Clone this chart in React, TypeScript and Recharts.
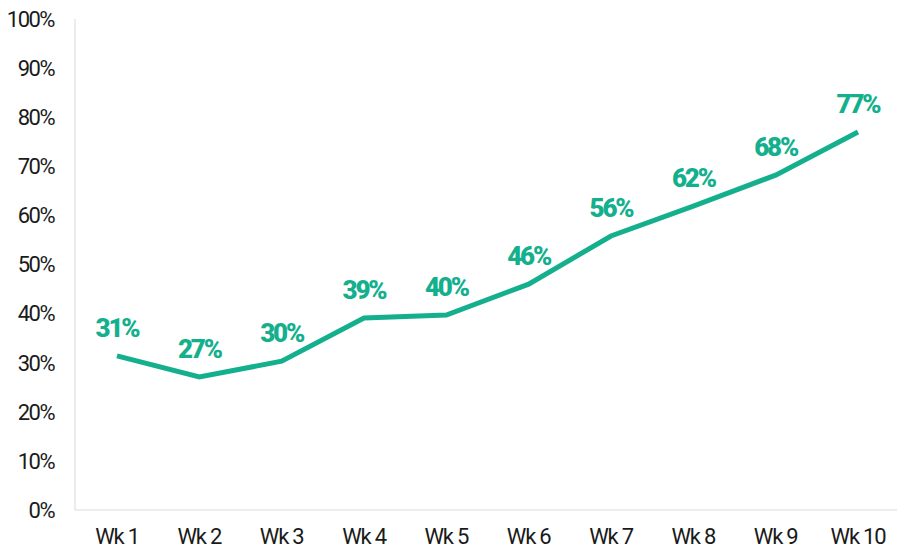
import { LineChart, Line, XAxis, YAxis, LabelList } from "recharts"

const weeks = ["Wk 1", "Wk 2", "Wk 3", "Wk 4", "Wk 5", "Wk 6", "Wk 7", "Wk 8", "Wk 9", "Wk 10"]
const rates = [31.4, 27.1, 30.3, 39.1, 39.7, 46.0, 55.8, 61.9, 68.2, 77.0]
const yTicks = [0, 10, 20, 30, 40, 50, 60, 70, 80, 90, 100]

const data = weeks.map((wk, i) => ({ name: wk, rate: rates[i] }))

const TEAL = "#14b08d"
const AXIS = "#d9d9d9"
const tickFont = "Roboto, 'DejaVu Sans Condensed', sans-serif"

export default function App() {
  return (
    <div style={{ position: "absolute", left: 0, top: 0, background: "#fff" }}>
      <LineChart width={897} height={551} data={data} margin={{ top: 19, right: 0, left: 0, bottom: 0 }}>
        <XAxis
          dataKey="name"
          height={41}
          stroke={AXIS}
          tickLine={false}
          tickSize={0}
          tickMargin={18}
          padding={{ left: 42, right: 39 }}
          tick={{ fill: "#1a1a1a", fontSize: 22, fontFamily: tickFont, letterSpacing: -1.2 }}
          interval={0}
        />
        <YAxis
          width={75}
          domain={[0, 100]}
          ticks={yTicks}
          stroke={AXIS}
          tickLine={false}
          tickSize={0}
          tickMargin={21}
          tickFormatter={(v: number) => `${v}%`}
          tick={{ fill: "#1a1a1a", fontSize: 22, fontFamily: tickFont, letterSpacing: -1.5 }}
          interval={0}
        />
        <Line
          type="linear"
          dataKey="rate"
          stroke={TEAL}
          strokeWidth={5}
          dot={false}
          isAnimationActive={false}
        >
          <LabelList
            dataKey="rate"
            position="top"
            offset={19}
            formatter={(v: number) => `${Math.round(v)}%`}
            style={{ fill: TEAL, fontSize: 26, fontWeight: 900, fontFamily: tickFont, letterSpacing: -2.2 }}
          />
        </Line>
      </LineChart>
    </div>
  )
}
